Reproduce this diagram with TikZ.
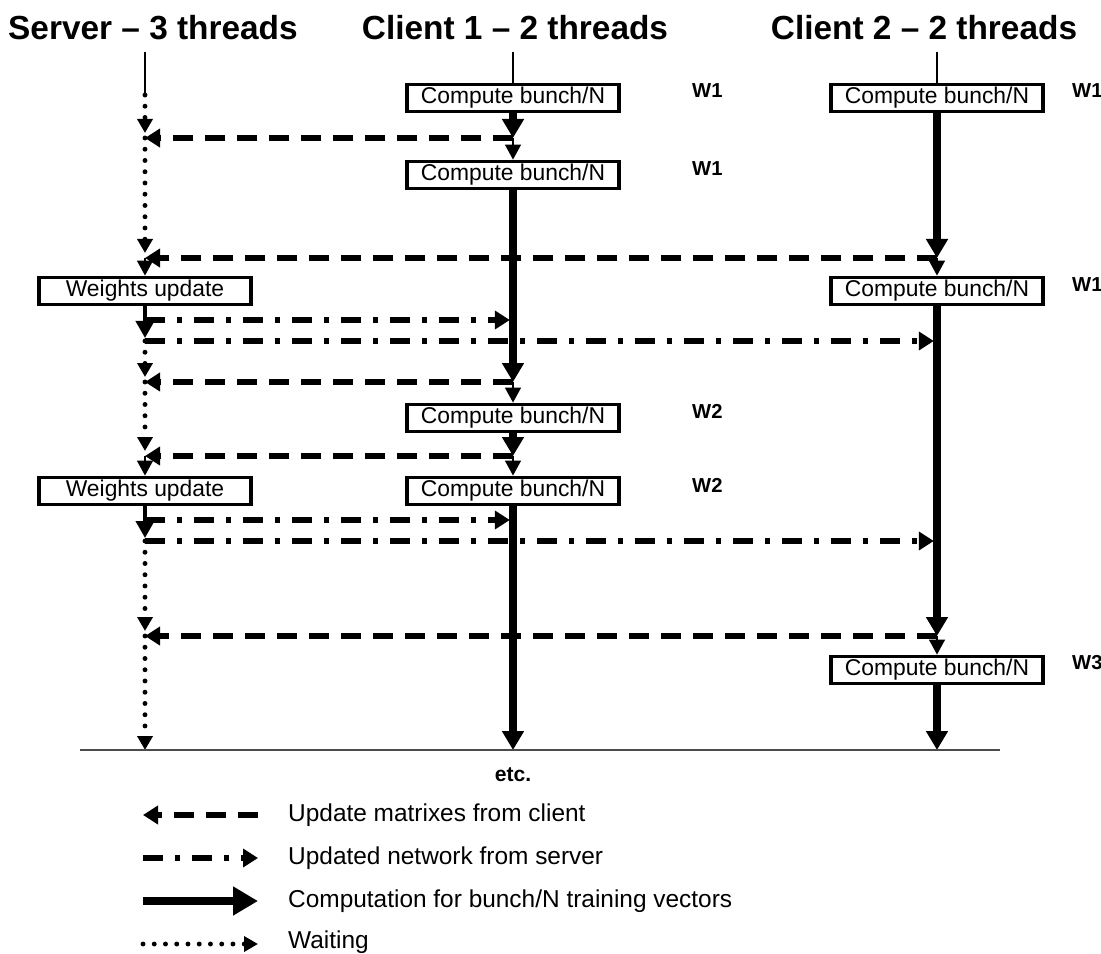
\documentclass[tikz,border=0pt]{standalone}
\usepackage{fontspec}
\setmainfont{Liberation Sans}
\usetikzlibrary{arrows.meta}

\tikzset{
    title/.style={font=\fontsize{19}{23}\selectfont\bfseries},
    box/.style={draw, line width=2.2pt, fill=white, minimum width=42.4mm, minimum height=5.4mm,
        inner sep=1pt, font=\fontsize{13}{15}\selectfont},
    wlab/.style={font=\fontsize{11.5}{13}\selectfont\bfseries, anchor=west},
    legtext/.style={font=\fontsize{13.9}{16}\selectfont, anchor=west},
    guide/.style={line width=0.7pt},
    comp/.style={line width=4pt, -{Triangle[length=3.8mm,width=4.2mm]}},
    tick/.style={line width=0.8pt, -{Triangle[length=3mm,width=3.2mm]}},
    short/.style={line width=2.2pt, -{Triangle[length=3.4mm,width=3.6mm]}, shorten >=0.6mm},
    upd/.style={line width=3pt, dash pattern=on 4mm off 2.4mm, -{Triangle[length=3mm,width=3.6mm]}},
    net/.style={line width=3pt, dash pattern=on 4mm off 2.4mm on 1mm off 2.4mm,
        -{Triangle[length=3mm,width=3.6mm]}, shorten >=1.8pt},
    wait/.style={line width=2.8pt, dash pattern=on 0pt off 6.4pt, line cap=round,
        -{Triangle[length=2.8mm,width=3mm]}, shorten >=1mm},
}

\begin{document}
\begin{tikzpicture}[x=0.2mm, y=-0.2mm]
    \useasboundingbox (0,0) rectangle (1101,954);

    % Headers
    \node[title] (tS) at (153,28) {Server – 3 threads};
    \node[title] (tA) at (515,28) {Client 1 – 2 threads};
    \node[title] (tB) at (924,28) {Client 2 – 2 threads};

    % Rows where the messages run
    \coordinate (s0) at (145,52);
    \coordinate (a0) at (513,52);
    \coordinate (b0) at (937,52);
    \coordinate (sd) at (145,95);
    \foreach \n/\y in {1/138,2/258,3/320,4/341,5/382,6/456,7/520,8/541,9/636,10/750} {
        \coordinate (s\n) at (145,\y);
        \coordinate (a\n) at (513,\y);
        \coordinate (b\n) at (937,\y);
    }

    % Boxes
    \node[box] (cA1) at (513,98) {Compute bunch/N};
    \node[box] (cB1) at (937,98) {Compute bunch/N};
    \node[box] (cA2) at (513,175) {Compute bunch/N};
    \node[box] (wu1) at (145,291) {Weights update};
    \node[box] (cB2) at (937,291) {Compute bunch/N};
    \node[box] (cA3) at (513,418) {Compute bunch/N};
    \node[box] (wu2) at (145,491) {Weights update};
    \node[box] (cA4) at (513,491) {Compute bunch/N};
    \node[box] (cB3) at (937,670) {Compute bunch/N};

    % Weight versions
    \node[wlab] (wA1) at (686,91) {W1};
    \node[wlab] (wB1) at (1066,91) {W1};
    \node[wlab] (wA2) at (686,169) {W1};
    \node[wlab] (wB2) at (1066,285) {W1};
    \node[wlab] (wA3) at (686,411) {W2};
    \node[wlab] (wA4) at (686,485) {W2};
    \node[wlab] (wB3) at (1066,663) {W3};

    % Server thread
    \draw[guide] (s0) -- (sd);
    \draw[wait] (sd) -- (s1);
    \draw[wait] (s1) -- (s2);
    \draw[tick] (s2) -- (wu1);
    \draw[short] (wu1) -- (s4);
    \draw[wait] (s4) -- (s5);
    \draw[wait] (s5) -- (s6);
    \draw[tick] (s6) -- (wu2);
    \draw[short] (wu2) -- (s8);
    \draw[wait] (s8) -- (s9);
    \draw[wait, shorten >=0pt] (s9) -- (s10);

    % Client 1
    \draw[guide] (a0) -- (cA1);
    \draw[comp] (cA1) -- (a1);
    \draw[tick] (a1) -- (cA2);
    \draw[comp] (cA2) -- (a5);
    \draw[tick] (a5) -- (cA3);
    \draw[comp] (cA3) -- (a6);
    \draw[tick] (a6) -- (cA4);
    \draw[comp] (cA4) -- (a10);

    % Client 2
    \draw[guide] (b0) -- (cB1);
    \draw[comp] (cB1) -- (b2);
    \draw[tick] (b2) -- (cB2);
    \draw[comp] (cB2) -- (b9);
    \draw[tick] (b9) -- (cB3);
    \draw[comp] (cB3) -- (b10);

    % Messages
    \draw[upd] (a1) -- (s1);
    \draw[upd] (b2) -- (s2);
    \draw[net] (s3) -- (a3);
    \draw[net] (s4) -- (b4);
    \draw[upd] (a5) -- (s5);
    \draw[upd] (a6) -- (s6);
    \draw[net] (s7) -- (a7);
    \draw[net] (s8) -- (b8);
    \draw[upd] (b9) -- (s9);

    % Base line
    \coordinate (baseL) at (80,750);
    \coordinate (baseR) at (1000,750);
    \draw[line width=1.1pt, black!70] (baseL) -- (baseR);
    \node[font=\fontsize{12}{14}\selectfont\bfseries] (etc) at (513,775) {etc.};

    % Legend
    \foreach \n/\y in {1/815,2/858,3/901,4/944} {
        \coordinate (kL\n) at (143,\y);
        \coordinate (kR\n) at (258,\y);
    }
    \draw[upd] (kR1) -- (kL1);
    \draw[net, shorten >=0pt] (kL2) -- (kR2);
    \draw[line width=4.5pt, -{Triangle[length=5mm,width=5.5mm]}] (kL3) -- (kR3);
    \draw[wait, shorten >=0pt] (kL4) -- (kR4);
    \node[legtext] (leg1) at (282,815) {Update matrixes from client};
    \node[legtext] (leg2) at (282,858) {Updated network from server};
    \node[legtext] (leg3) at (282,901) {Computation for bunch/N training vectors};
    \node[legtext] (leg4) at (282,942) {Waiting};
\end{tikzpicture}
\end{document}
